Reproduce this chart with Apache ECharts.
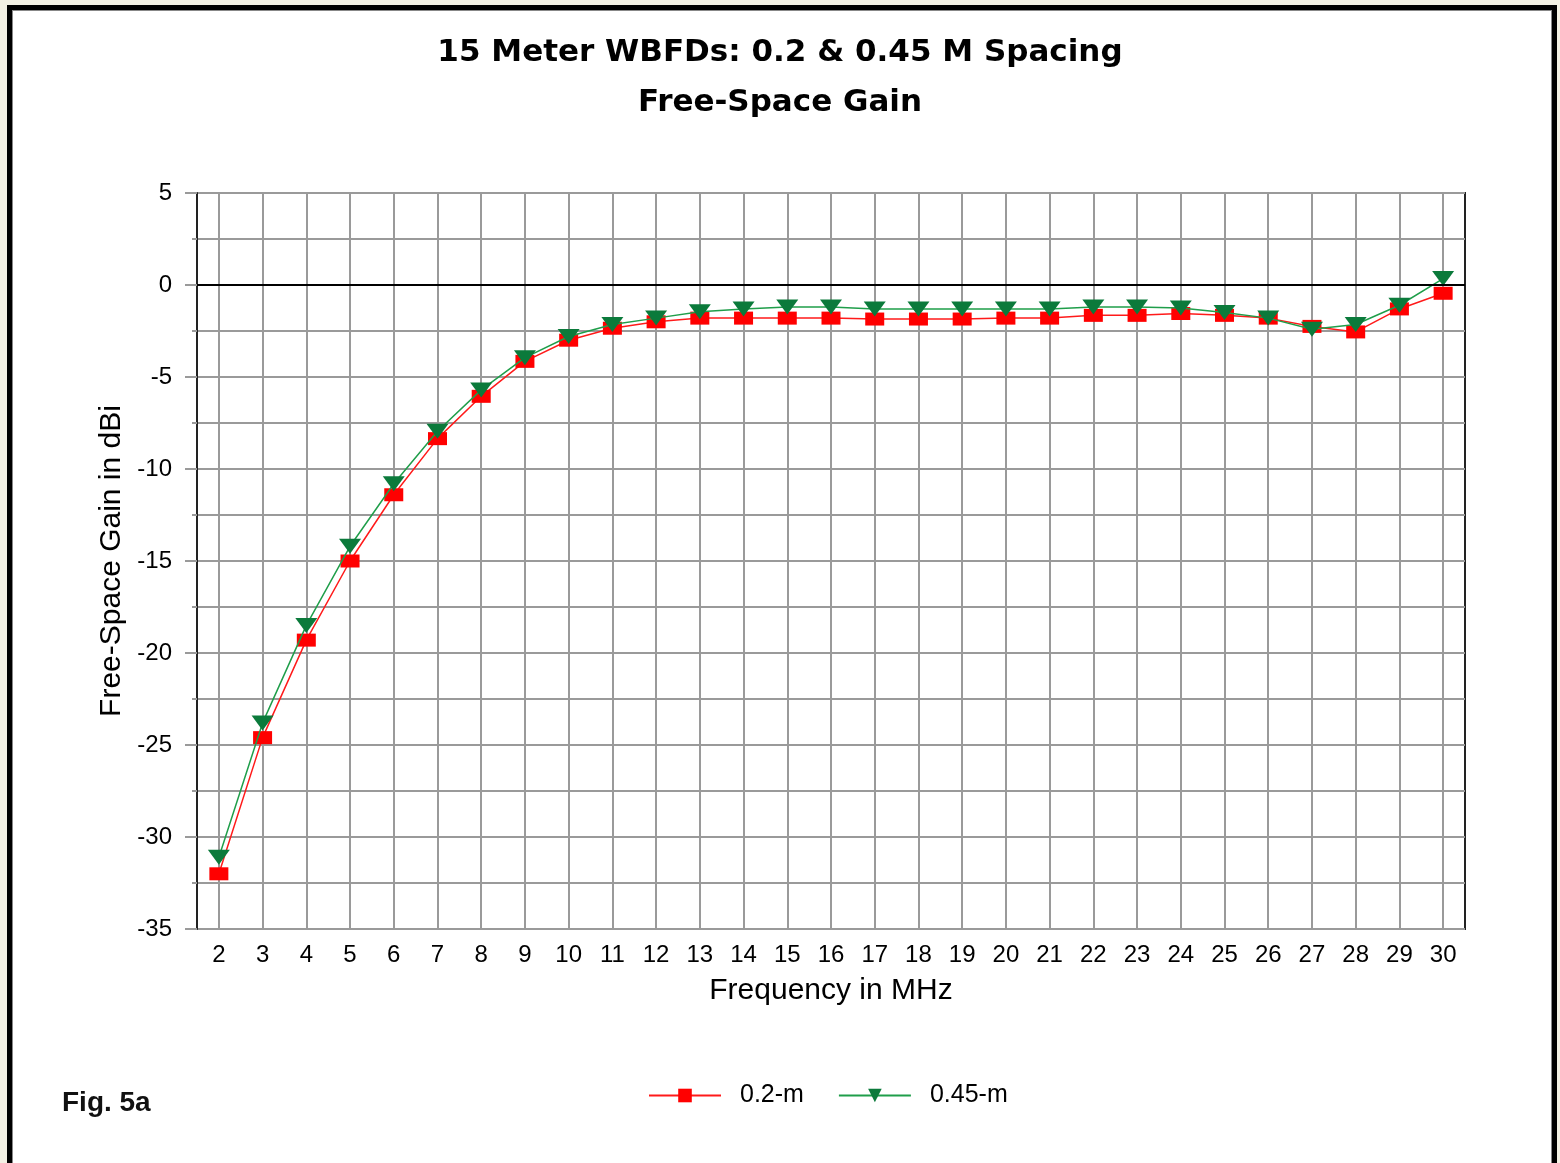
<!DOCTYPE html>
<html>
<head>
<meta charset="utf-8">
<script src="https://cdn.jsdelivr.net/npm/echarts@6/dist/echarts.min.js"></script>
<style>
  html, body { margin: 0; padding: 0; width: 1560px; height: 1163px; overflow: hidden; background: #f3f1e4; }
  #frame { position: absolute; left: 7px; top: 5px; width: 1550px; height: 1200px; box-sizing: border-box;
           border: 5px solid #000; border-bottom: none; background: #fff; box-shadow: inset 1px 1px 0 0 #888, inset -1px 0 0 0 #888; }
  #chart { position: absolute; left: 0; top: 0; width: 1560px; height: 1163px; }
</style>
</head>
<body>
<div id="frame"></div>
<div id="chart"></div>
<script>
const titleText = '15 Meter WBFDs: 0.2 & 0.45 M Spacing\nFree-Space Gain';
const xAxisName = 'Frequency in MHz';
const yAxisName = 'Free-Space Gain in dBi';
const figLabel = 'Fig. 5a';

const frequencies = ['2','3','4','5','6','7','8','9','10','11','12','13','14','15','16','17','18','19','20','21','22','23','24','25','26','27','28','29','30'];
const gain02 = [-32.0, -24.6, -19.3, -15.0, -11.4, -8.35, -6.05, -4.15, -3.0, -2.35, -2.0, -1.8, -1.8, -1.8, -1.8, -1.85, -1.85, -1.85, -1.8, -1.8, -1.65, -1.65, -1.55, -1.65, -1.8, -2.25, -2.55, -1.3, -0.45];
const gain045 = [-31.1, -23.8, -18.5, -14.2, -10.8, -7.95, -5.7, -3.95, -2.8, -2.15, -1.8, -1.45, -1.3, -1.2, -1.2, -1.3, -1.3, -1.3, -1.3, -1.3, -1.2, -1.2, -1.25, -1.5, -1.8, -2.4, -2.15, -1.1, 0.35];
const seriesNames = ['0.2-m', '0.45-m'];

const AX = 'Liberation Sans, Arial, sans-serif';
const gridGray = '#9a9a9a';

const chart = echarts.init(document.getElementById('chart'), null, { renderer: 'canvas' });
chart.setOption({
  animation: false,
  backgroundColor: 'transparent',
  title: {
    text: titleText,
    left: 'center',
    top: 23,
    textStyle: { fontFamily: 'DejaVu Sans', fontWeight: 'bold', fontSize: 31, lineHeight: 50, color: '#000' }
  },
  grid: { left: 197, right: 95, top: 193, bottom: 234, show: true, borderColor: '#222', borderWidth: 2 },
  legend: {
    left: 648, top: 1083, padding: 0,
    itemWidth: 72, itemHeight: 17, itemGap: 34,
    textStyle: { fontFamily: AX, fontSize: 25, color: '#000', padding: [0, 0, 0, 14] },
    data: seriesNames
  },
  xAxis: {
    type: 'category',
    data: frequencies,
    boundaryGap: true,
    name: xAxisName,
    nameLocation: 'middle',
    nameGap: 47,
    nameTextStyle: { fontFamily: AX, fontSize: 30, color: '#000' },
    axisLine: { show: true, lineStyle: { color: '#222', width: 2 } },
    axisTick: { show: true, alignWithLabel: true, interval: 0, length: 10, lineStyle: { color: gridGray, width: 2 } },
    axisLabel: { interval: 0, fontFamily: AX, fontSize: 24, color: '#000', margin: 14 },
    splitLine: { show: true, alignWithLabel: true, interval: 0, lineStyle: { color: gridGray, width: 2 } }
  },
  yAxis: {
    type: 'value',
    min: -35, max: 5, interval: 5,
    name: yAxisName,
    nameLocation: 'middle',
    nameGap: 66,
    nameTextStyle: { fontFamily: AX, fontSize: 30, color: '#000' },
    axisLine: { show: true, lineStyle: { color: '#222', width: 2 } },
    axisTick: { show: true, length: 12, lineStyle: { color: gridGray, width: 2 } },
    minorTick: { show: true, splitNumber: 2, length: 5, lineStyle: { color: gridGray, width: 2 } },
    axisLabel: { fontFamily: AX, fontSize: 24, color: '#000', margin: 25 },
    splitLine: { show: true, lineStyle: { color: gridGray, width: 2 } },
    minorSplitLine: { show: true, lineStyle: { color: gridGray, width: 2 } }
  },
  graphic: [{
    type: 'text', x: 62, y: 1103,
    style: { text: figLabel, fontFamily: AX, fontWeight: 'bold', fontSize: 28, fill: '#111', verticalAlign: 'middle' }
  }],
  series: [
    {
      name: seriesNames[0], type: 'line', data: gain02,
      symbol: 'rect', symbolSize: [19, 13],
      lineStyle: { color: '#ff1a1a', width: 1.5 },
      itemStyle: { color: '#ff0000' },
      markLine: {
        silent: true, symbol: 'none', label: { show: false },
        lineStyle: { color: '#000', type: 'solid', width: 2 },
        data: [{ yAxis: 0 }]
      },
      z: 2
    },
    {
      name: seriesNames[1], type: 'line', data: gain045,
      symbol: 'path://M0,0L22,0L11,15Z', symbolSize: [22, 15],
      lineStyle: { color: '#1f9e4a', width: 1.5 },
      itemStyle: { color: '#0b7a3b' },
      z: 3
    }
  ]
});
</script>
</body>
</html>
